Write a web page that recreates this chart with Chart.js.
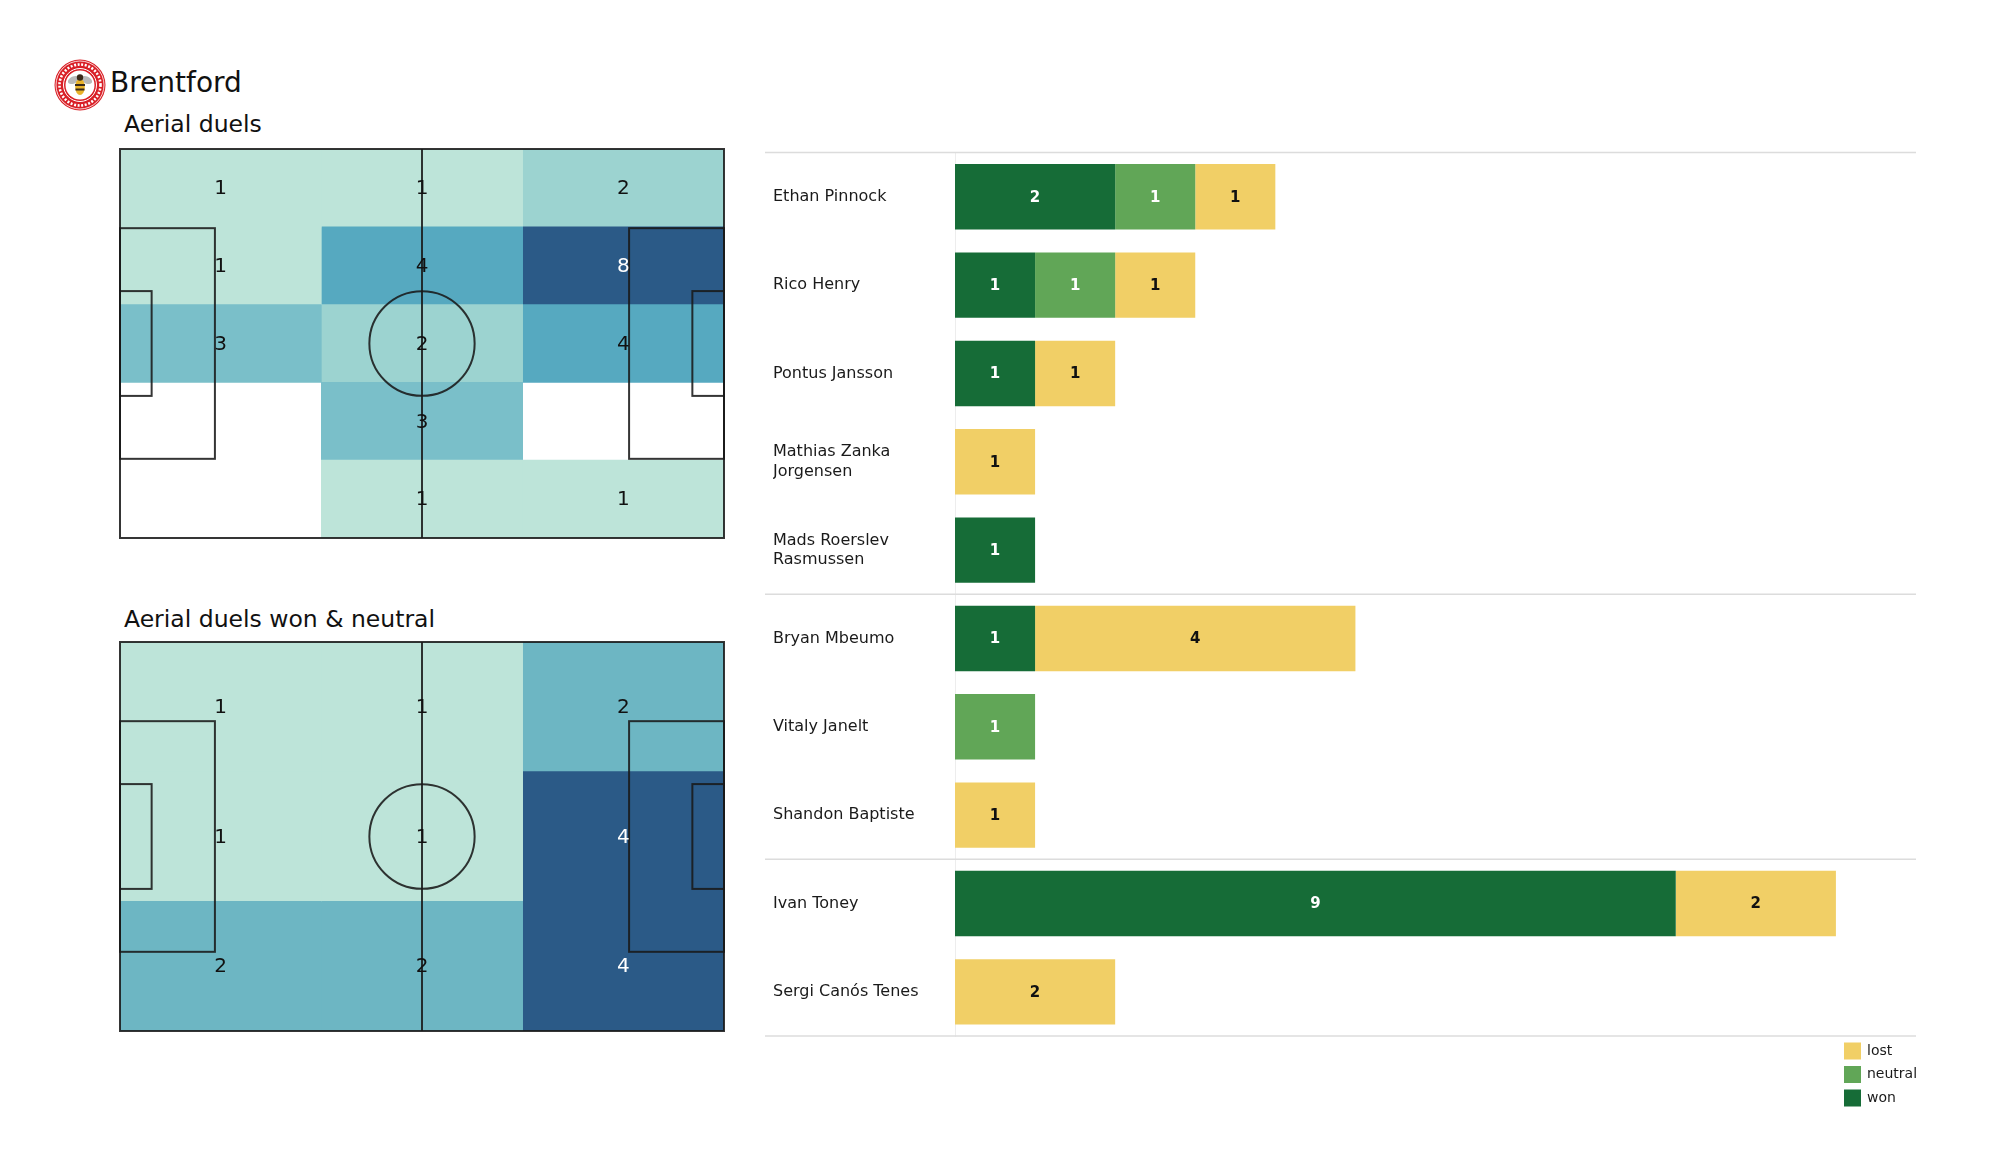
<!DOCTYPE html>
<html>
<head>
<meta charset="utf-8">
<script src="https://cdn.jsdelivr.net/npm/chart.js@4.4.0/dist/chart.umd.min.js"></script>
<style>
body { margin: 0; background: #fff; width: 2000px; height: 1175px; position: relative; overflow: hidden; font-family: 'DejaVu Sans', sans-serif; }
.txt { position: absolute; line-height: 1; color: #111; white-space: nowrap; }
canvas, svg { position: absolute; }
</style>
</head>
<body>
<svg id="logo" width="52" height="52" viewBox="0 0 52 52" style="left:54px;top:59px">
  <circle cx="26" cy="26" r="25.5" fill="#d91f26"/>
  <circle cx="26" cy="26" r="24" fill="none" stroke="#fff" stroke-width="0.8"/>
  <circle cx="26" cy="26" r="20.5" fill="none" stroke="#fff" stroke-width="2.6" stroke-dasharray="2 1.6"/>
  <circle cx="26" cy="26" r="16.5" fill="#d91f26" stroke="#fff" stroke-width="1"/>
  <circle cx="26" cy="26" r="14.5" fill="#fff"/>
  <ellipse cx="19.5" cy="21" rx="6" ry="3.5" fill="#b9b9b9" transform="rotate(-25 19.5 21)"/>
  <ellipse cx="32.5" cy="21" rx="6" ry="3.5" fill="#b9b9b9" transform="rotate(25 32.5 21)"/>
  <ellipse cx="26" cy="28" rx="4.8" ry="8" fill="#e9b32a"/>
  <rect x="21" y="25" width="10" height="2" fill="#3a2a1a"/>
  <rect x="21.5" y="29.5" width="9" height="2" fill="#3a2a1a"/>
  <circle cx="26" cy="18.5" r="3.2" fill="#3a2a1a"/>
</svg>
<div class="txt" style="left:110px;top:69px;font-size:28px">Brentford</div>
<div class="txt" style="left:124px;top:113px;font-size:23.5px">Aerial duels</div>
<div class="txt" style="left:124px;top:608px;font-size:23.5px">Aerial duels won &amp; neutral</div>
<canvas id="pitchAll" width="610" height="395" style="left:117px;top:146px"></canvas>
<canvas id="pitchWon" width="610" height="395" style="left:117px;top:639px"></canvas>
<canvas id="bars" width="1180" height="990" style="left:760px;top:140px"></canvas>
<script>
// players and their aerial duels, top to bottom
const players = ['Ethan Pinnock', 'Rico Henry', 'Pontus Jansson', ['Mathias Zanka', 'Jorgensen'],
    ['Mads Roerslev', 'Rasmussen'], 'Bryan Mbeumo', 'Vitaly Janelt', 'Shandon Baptiste',
    'Ivan Toney', 'Sergi Canós Tenes']
const won = [2, 1, 1, 0, 1, 1, 0, 0, 9, 0]
const neutral = [1, 1, 0, 0, 0, 0, 1, 0, 0, 0]
const lost = [1, 1, 1, 1, 0, 4, 0, 1, 2, 2]
const groupStarts = [5, 8]

// heatmap counts, rows top to bottom, columns left to right
const allDuels = [
    [1, 1, 2],
    [1, 4, 8],
    [3, 2, 4],
    [0, 3, 0],
    [0, 1, 1]
]
const wonNeutralDuels = [
    [1, 1, 2],
    [1, 1, 4],
    [2, 2, 4]
]
const pitchColEdges = [0, 35, 70, 105]

const heatStops = [
    [0, [189, 228, 217]], [0.143, [156, 211, 208]], [0.286, [122, 191, 201]],
    [0.333, [109, 182, 195]], [0.43, [86, 169, 192]], [1, [43, 90, 135]]
]

function heatColor(t) {
    for (let i = 1; i < heatStops.length; i++) {
        if (t <= heatStops[i][0]) {
            const [t0, c0] = heatStops[i - 1]
            const [t1, c1] = heatStops[i]
            const f = (t - t0) / (t1 - t0)
            const c = c0.map((v, k) => Math.round(v + (c1[k] - v) * f))
            return `rgb(${c[0]},${c[1]},${c[2]})`
        }
    }
    return 'rgb(43,90,135)'
}

// pitch markings in metres, drawn through the chart scales
const pitchLines = {
    id: 'pitchLines',
    afterDatasetsDraw(chart, args, opts) {
        const { ctx, scales: { x, ym } } = chart
        const px = v => x.getPixelForValue(v)
        const py = v => ym.getPixelForValue(v)
        const rect = (x0, y0, x1, y1) => ctx.strokeRect(px(x0), py(y1), px(x1) - px(x0), py(y0) - py(y1))
        ctx.save()
        ctx.strokeStyle = 'rgba(25,25,25,0.88)'
        ctx.lineWidth = 2
        rect(0, 0, 105, 68)
        ctx.beginPath()
        ctx.moveTo(px(52.5), py(0))
        ctx.lineTo(px(52.5), py(68))
        ctx.stroke()
        rect(0, 13.84, 16.5, 54.16)
        rect(88.5, 13.84, 105, 54.16)
        rect(0, 24.84, 5.5, 43.16)
        rect(99.5, 24.84, 105, 43.16)
        ctx.beginPath()
        ctx.ellipse(px(52.5), py(34), px(9.15) - px(0), py(0) - py(9.15), 0, 0, Math.PI * 2)
        ctx.stroke()

        // counts in each cell
        ctx.font = '20px "DejaVu Sans"'
        ctx.textAlign = 'center'
        ctx.textBaseline = 'middle'
        const grid = opts.grid
        const max = Math.max(...grid.flat())
        chart.data.datasets.forEach((ds, j) => {
            chart.getDatasetMeta(j).data.forEach((bar, i) => {
                const v = grid[i][j]
                if (!v) return
                const p = bar.getProps(['x', 'base', 'y'], true)
                ctx.fillStyle = (v - 1) / (max - 1) > 0.7 ? '#ffffff' : '#111111'
                ctx.fillText(v, (p.x + p.base) / 2, p.y + 1)
            })
        })
        ctx.restore()
    }
}

function drawPitch(id, grid) {
    const max = Math.max(...grid.flat())
    new Chart(document.getElementById(id), {
        type: 'bar',
        data: {
            labels: grid.map((_, i) => 'row ' + (i + 1)),
            datasets: [0, 1, 2].map(j => ({
                data: grid.map(() => [pitchColEdges[j], pitchColEdges[j + 1]]),
                backgroundColor: grid.map(r => r[j] > 0 ? heatColor((r[j] - 1) / (max - 1)) : 'rgba(0,0,0,0)'),
                grouped: false,
                categoryPercentage: 1,
                barPercentage: 1,
                borderWidth: 0
            }))
        },
        options: {
            indexAxis: 'y',
            responsive: false,
            animation: false,
            layout: { padding: 3 },
            plugins: { legend: { display: false }, tooltip: { enabled: false }, pitchLines: { grid: grid } },
            scales: {
                x: { type: 'linear', min: 0, max: 105, display: false },
                y: { display: false, offset: true },
                ym: { type: 'linear', axis: 'y', position: 'left', min: 0, max: 68, offset: false, display: false }
            }
        },
        plugins: [pitchLines]
    })
}

drawPitch('pitchAll', allDuels)
drawPitch('pitchWon', wonNeutralDuels)

// bar values, group separators and legend
const barExtras = {
    id: 'barExtras',
    afterDatasetsDraw(chart) {
        const { ctx, chartArea, scales: { y } } = chart
        ctx.save()
        ctx.font = 'bold 15px "DejaVu Sans"'
        ctx.textAlign = 'center'
        ctx.textBaseline = 'middle'
        chart.data.datasets.forEach((ds, j) => {
            chart.getDatasetMeta(j).data.forEach((bar, i) => {
                const v = ds.data[i]
                if (!v) return
                const p = bar.getProps(['x', 'base', 'y'], true)
                ctx.fillStyle = ds.label === 'lost' ? '#111111' : '#ffffff'
                ctx.fillText(v, (p.x + p.base) / 2, p.y + 1)
            })
        })

        ctx.strokeStyle = '#dcdcdc'
        ctx.lineWidth = 1.5
        const lines = [chartArea.top, chartArea.bottom]
        groupStarts.forEach(k => lines.push((y.getPixelForValue(k - 1) + y.getPixelForValue(k)) / 2))
        lines.forEach(ly => {
            ctx.beginPath()
            ctx.moveTo(5, ly)
            ctx.lineTo(chartArea.right, ly)
            ctx.stroke()
        })

        ctx.font = '14px "DejaVu Sans"'
        ctx.textAlign = 'left'
        const items = chart.data.datasets.slice().reverse()
        items.forEach((ds, k) => {
            const cy = chartArea.bottom + 15 + k * 23.5
            const bx = chartArea.right - 72
            ctx.fillStyle = ds.backgroundColor
            ctx.fillRect(bx, cy - 8.5, 17, 17)
            ctx.fillStyle = '#1a1a1a'
            ctx.fillText(ds.label, bx + 23, cy)
        })
        ctx.restore()
    }
}

new Chart(document.getElementById('bars'), {
    type: 'bar',
    data: {
        labels: players,
        datasets: [
            { label: 'won', data: won, backgroundColor: '#166c37' },
            { label: 'neutral', data: neutral, backgroundColor: '#61a657' },
            { label: 'lost', data: lost, backgroundColor: '#f1cf66' }
        ]
    },
    options: {
        indexAxis: 'y',
        responsive: false,
        animation: false,
        layout: { padding: { left: 13, top: 11, right: 24, bottom: 94 } },
        datasets: { bar: { categoryPercentage: 1, barPercentage: 0.74, borderWidth: 0 } },
        plugins: { legend: { display: false }, tooltip: { enabled: false } },
        scales: {
            x: { stacked: true, min: 0, max: 12, display: false },
            y: {
                stacked: true,
                grid: { display: false },
                border: { display: true, color: '#ededed', width: 1 },
                ticks: { crossAlign: 'far', color: '#1a1a1a', font: { family: 'DejaVu Sans', size: 16, lineHeight: 1.2 } },
                afterFit(scale) { scale.width = 182 }
            }
        }
    },
    plugins: [barExtras]
})
</script>
</body>
</html>
